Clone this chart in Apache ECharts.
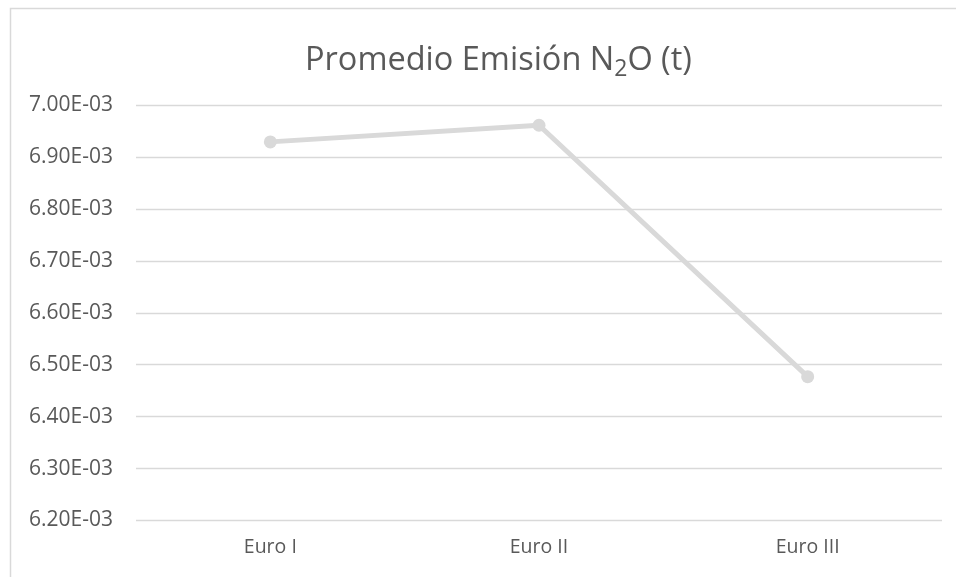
<!DOCTYPE html>
<html>
<head>
<meta charset="utf-8">
<script src="https://cdn.jsdelivr.net/npm/echarts@6/dist/echarts.min.js"></script>
<style>
  html, body { margin: 0; padding: 0; background: #fff; }
  #chart { width: 956px; height: 577px; }
</style>
</head>
<body>
<div id="chart"></div>
<script>
// Average N2O emission per Euro standard (tonnes)
const categories = ['Euro I', 'Euro II', 'Euro III'];
const emissions = [0.006929, 0.006961, 0.006477];
const yMin = 0.0062;
const yMax = 0.0070;
const yStep = 0.0001;

// Excel-style scientific notation: 7.00E-03
function sci(v) {
  const parts = v.toExponential(2).split('e');
  const exp = parseInt(parts[1], 10);
  const sign = exp < 0 ? '-' : '+';
  const mag = String(Math.abs(exp)).padStart(2, '0');
  return parts[0] + 'E' + sign + mag;
}

const font = '"Open Sans", "Liberation Sans", sans-serif';
const chart = echarts.init(document.getElementById('chart'), null, { renderer: 'canvas' });

chart.setOption({
  animation: false,
  backgroundColor: '#ffffff',
  graphic: [{
    type: 'rect',
    shape: { x: 10.5, y: 8.5, width: 960, height: 590 },
    style: { fill: 'none', stroke: '#d9d9d9', lineWidth: 1.5 },
    silent: true
  }],
  title: {
    text: '{t|Promedio Emisión N}{s|2}{t|O (t)}',
    left: 300,
    top: 34,
    textStyle: {
      fontWeight: 'normal',
      rich: {
        t: { fontFamily: font, fontSize: 32.5, fontWeight: 'normal', color: '#595959', lineHeight: 44 },
        s: { fontFamily: font, fontSize: 23, fontWeight: 'normal', color: '#595959', padding: [16, 0, 0, 0], lineHeight: 44 }
      }
    }
  },
  grid: { left: 136, right: 14, top: 105, bottom: 56.5, containLabel: false },
  xAxis: {
    type: 'category',
    data: categories,
    boundaryGap: true,
    axisLine: { show: false },
    axisTick: { show: false },
    axisLabel: { color: '#595959', fontFamily: font, fontSize: 19.5, margin: 17 }
  },
  yAxis: {
    type: 'value',
    min: yMin,
    max: yMax,
    interval: yStep,
    axisLine: { show: false },
    axisTick: { show: false },
    splitLine: { lineStyle: { color: '#d9d9d9', width: 1.3 } },
    axisLabel: {
      color: '#595959', fontFamily: font, fontSize: 21, margin: 23,
      formatter: v => sci(v)
    }
  },
  series: [{
    type: 'line',
    data: emissions,
    symbol: 'circle',
    symbolSize: 13,
    itemStyle: { color: '#d9d9d9' },
    lineStyle: { color: '#d9d9d9', width: 5 }
  }]
});
</script>
</body>
</html>
